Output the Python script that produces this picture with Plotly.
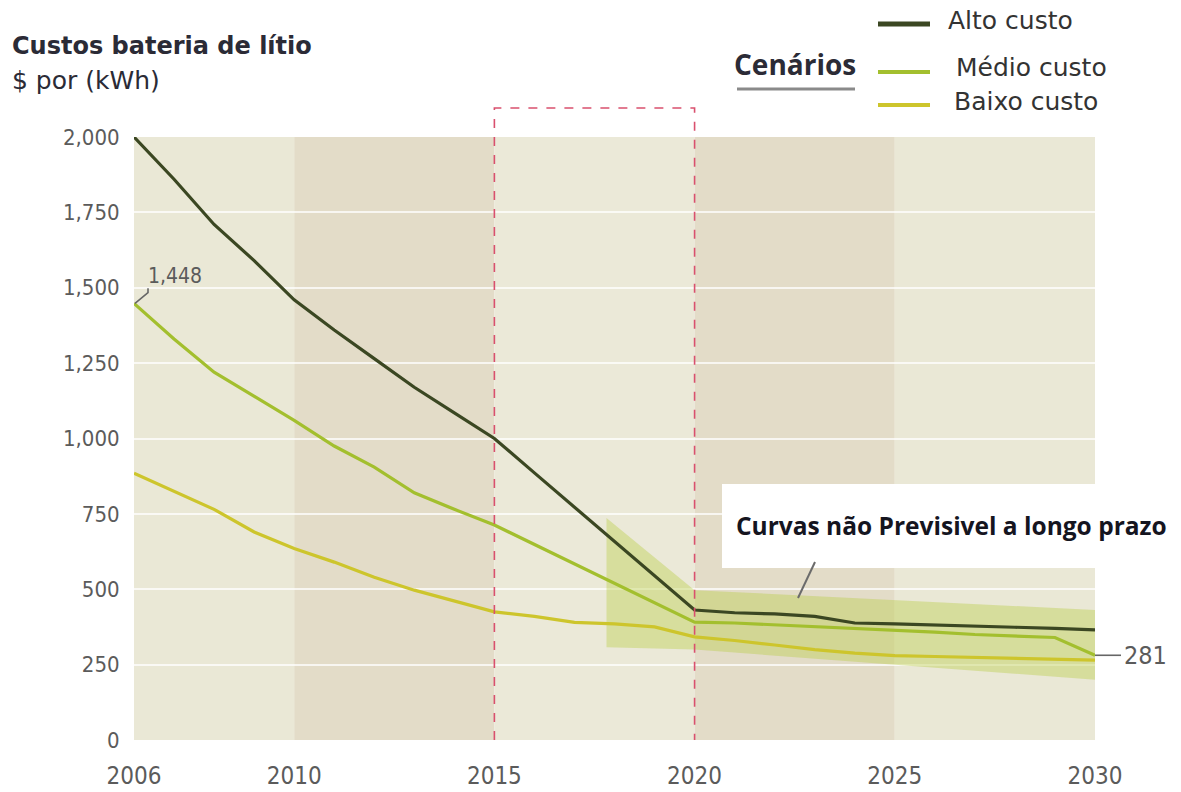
import plotly.graph_objects as go

# ---- data ----
years = list(range(2006, 2031))
alto = [2000, 1860, 1710, 1590, 1460, 1360, 1265, 1170, 1085, 1000,
        886, 772, 658, 545, 431, 422, 418, 410, 388, 385,
        382, 378, 374, 370, 365]
medio = [1448, 1330, 1220, 1140, 1060, 975, 905, 820, 765, 713,
         649, 585, 520, 456, 391, 388, 382, 377, 370, 364,
         358, 350, 345, 340, 281]
baixo = [885, 825, 765, 690, 635, 590, 540, 497, 460, 425,
         410, 390, 385, 375, 342, 330, 315, 300, 288, 280,
         277, 274, 271, 268, 265]

# uncertainty band of the forecast
band_years = [2017.8, 2020, 2030]
band_upper = [736, 497, 431]
band_lower = [308, 300, 200]

# alternating period shading
period_edges = [2006, 2010, 2015, 2020, 2025, 2030]
period_colors = ["#eae8d6", "#e3dcc8", "#ebe9d8", "#e3dcc8", "#eae8d6"]

x_ticks = [2006, 2010, 2015, 2020, 2025, 2030]
y_ticks = [0, 250, 500, 750, 1000, 1250, 1500, 1750, 2000]
y_tick_text = [f"{v:,}" for v in y_ticks]

series_names = ["Alto custo", "Médio custo", "Baixo custo"]
series_colors = ["#3b4722", "#a3bf2e", "#cdc52c"]

# ---- layout geometry (pixels) ----
W, H = 1181, 792
L, R, T, B = 134, 86, 137, 52
PW, PH = W - L - R, H - T - B


def fx(px):
    return (px - L) / PW


def fy(py):
    return (H - B - py) / PH


NARROW = "DejaVu Sans Condensed, Liberation Sans Narrow, Arial Narrow, Roboto, sans-serif"
WIDE = "DejaVu Sans, Open Sans, sans-serif"
TEXT_FONT = "Open Sans, sans-serif"
GREY = "#5b5b5b"

fig = go.Figure()

# forecast band
fig.add_trace(go.Scatter(
    x=band_years + band_years[::-1],
    y=band_upper + band_lower[::-1],
    fill="toself", fillcolor="rgba(184,204,70,0.40)",
    line=dict(width=0), mode="lines", hoverinfo="skip", showlegend=False,
))

for name, vals, col in zip(series_names[::-1], [baixo, medio, alto], series_colors[::-1]):
    fig.add_trace(go.Scatter(
        x=years, y=vals, mode="lines", name=name,
        line=dict(color=col, width=3.2), showlegend=False,
    ))

shapes = []
for x0, x1, c in zip(period_edges[:-1], period_edges[1:], period_colors):
    shapes.append(dict(type="rect", xref="x", yref="paper", x0=x0, x1=x1, y0=0, y1=1,
                       fillcolor=c, line=dict(width=0), layer="below"))

# dashed frame around 2015-2020
top = fy(108)
shapes.append(dict(type="path", xref="x", yref="paper",
                   path=f"M 2015,0 L 2015,{top} L 2020,{top} L 2020,0",
                   line=dict(color="#d9506e", width=1.6, dash="dash"), layer="above"))

# white box behind the note
shapes.append(dict(type="rect", xref="paper", yref="paper",
                   x0=fx(722), x1=fx(1178), y0=fy(568), y1=fy(484),
                   fillcolor="white", line=dict(width=0), layer="above"))
# note leader
shapes.append(dict(type="line", xref="paper", yref="paper",
                   x0=fx(815), y0=fy(562), x1=fx(798), y1=fy(598),
                   line=dict(color="#6b6b6b", width=2), layer="above"))

# value leaders
shapes.append(dict(type="path", xref="paper", yref="y",
                   path=f"M {fx(135)},{medio[0]} L {fx(148)},{medio[0] + 36} L {fx(148)},{medio[0] + 50}",
                   line=dict(color="#666666", width=1.6)))
shapes.append(dict(type="line", xref="paper", yref="y",
                   x0=1.0, x1=fx(1121), y0=medio[-1], y1=medio[-1],
                   line=dict(color="#666666", width=1.6)))

# legend
legend_y = [24, 72, 105]
legend_w = [5, 4, 4]
for yy, col, wd in zip(legend_y, series_colors, legend_w):
    shapes.append(dict(type="line", xref="paper", yref="paper",
                       x0=fx(878), x1=fx(930), y0=fy(yy), y1=fy(yy),
                       line=dict(color=col, width=wd)))
shapes.append(dict(type="line", xref="paper", yref="paper",
                   x0=fx(737), x1=fx(855), y0=fy(89), y1=fy(89),
                   line=dict(color="#8a8a8a", width=3)))

annotations = [
    dict(text="<b>Custos bateria de lítio</b>", x=fx(10), y=fy(46), font=dict(family=WIDE, size=24, color="#2b2b36")),
    dict(text="$ por (kWh)", x=fx(10), y=fy(80), font=dict(family=WIDE, size=25, color="#2b2b36")),
    dict(text="<b>Cenários</b>", x=fx(732), y=fy(64), font=dict(family=TEXT_FONT, size=28, color="#2b2b36")),
    dict(text="<b>Curvas não Previsivel a longo prazo</b>", x=fx(734), y=fy(525),
         font=dict(family=TEXT_FONT, size=24.5, color="#15151f")),
    dict(text="1,448", x=fx(146), xref="paper", y=medio[0], yref="y", yshift=27,
         font=dict(family=NARROW, size=21, color=GREY)),
    dict(text="281", x=fx(1122), xref="paper", y=medio[-1], yref="y",
         font=dict(family=NARROW, size=25, color=GREY)),
]
for name, xx, yy in zip(series_names, [946, 954, 952], [21, 67, 101]):
    annotations.append(dict(text=name, x=fx(xx), y=fy(yy),
                            font=dict(family=WIDE, size=25, color="#333333")))
for a in annotations:
    a.setdefault("xref", "paper")
    a.setdefault("yref", "paper")
    a.update(showarrow=False, xanchor="left", yanchor="middle")

fig.update_layout(
    width=W, height=H,
    margin=dict(l=L, r=R, t=T, b=B, pad=0),
    paper_bgcolor="white", plot_bgcolor="rgba(0,0,0,0)",
    shapes=shapes, annotations=annotations,
    showlegend=False,
    xaxis=dict(range=[2006, 2030], tickvals=x_ticks, ticktext=[str(v) for v in x_ticks],
               showgrid=False, zeroline=False, showline=False, automargin=False,
               ticks="outside", ticklen=14, tickcolor="rgba(0,0,0,0)",
               tickfont=dict(family=NARROW, size=24, color=GREY)),
    yaxis=dict(range=[0, 2000], tickvals=y_ticks, ticktext=y_tick_text,
               showgrid=True, gridcolor="rgba(255,255,255,0.75)", gridwidth=1.5,
               zeroline=False, showline=False, automargin=False,
               ticks="outside", ticklen=9, tickcolor="rgba(0,0,0,0)",
               tickfont=dict(family=NARROW, size=22, color=GREY)),
)

fig.write_html("out.html")
